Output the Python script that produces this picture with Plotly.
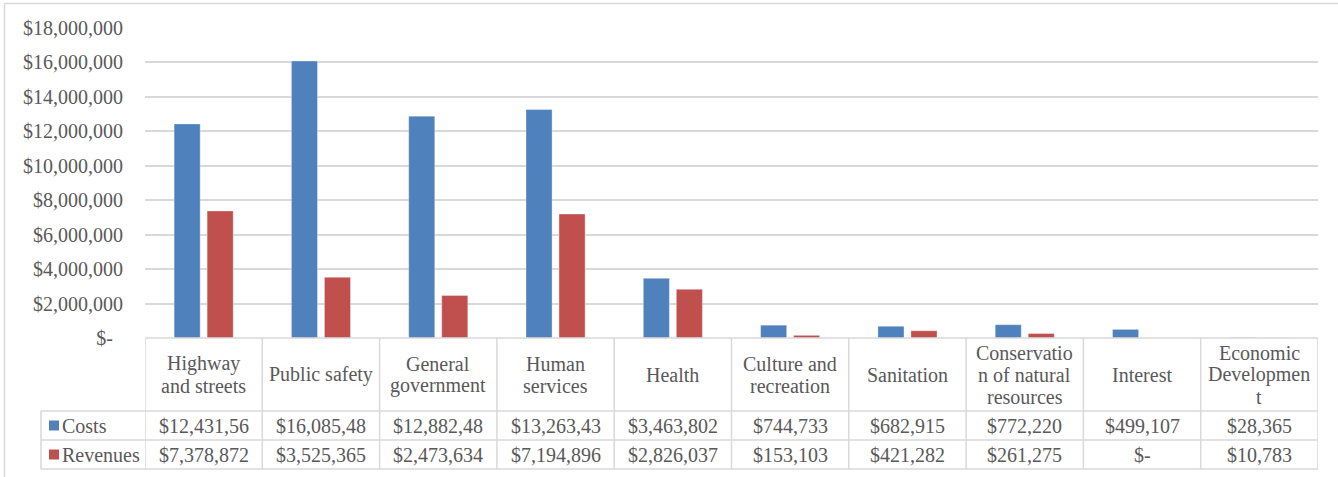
import plotly.graph_objects as go

categories = ["Highway and streets", "Public safety", "General government", "Human services",
              "Health", "Culture and recreation", "Sanitation",
              "Conservation of natural resources", "Interest", "Economic Development"]
header_lines = [["Highway", "and streets"], ["Public safety"], ["General", "government"],
                ["Human", "services"], ["Health"], ["Culture and", "recreation"], ["Sanitation"],
                ["Conservatio", "n of natural", "resources"], ["Interest"],
                ["Economic", "Developmen", "t"]]
costs = [12431560, 16085480, 12882480, 13263430, 3463802, 744733, 682915, 772220, 499107, 28365]
revenues = [7378872, 3525365, 2473634, 7194896, 2826037, 153103, 421282, 261275, 0, 10783]
cost_labels = ["$12,431,56", "$16,085,48", "$12,882,48", "$13,263,43", "$3,463,802",
               "$744,733", "$682,915", "$772,220", "$499,107", "$28,365"]
revenue_labels = ["$7,378,872", "$3,525,365", "$2,473,634", "$7,194,896", "$2,826,037",
                  "$153,103", "$421,282", "$261,275", "$-", "$10,783"]
y_ticks = [0, 2e6, 4e6, 6e6, 8e6, 10e6, 12e6, 14e6, 16e6, 18e6]
y_tick_text = ["$-\u00a0\u00a0", "$2,000,000", "$4,000,000", "$6,000,000", "$8,000,000",
               "$10,000,000", "$12,000,000", "$14,000,000", "$16,000,000", "$18,000,000"]

BLUE = "#4F81BD"
RED = "#C0504D"
GRID = "#D9D9D9"
TXT = "#595959"
FONT = "Liberation Serif"
FS = 20

W, H = 1338, 477
L, R, T, B = 145, 1318, 28, 338  # plot area in pixels

def px_x(p):
    return (p - L) / (R - L)

def px_y(p):
    return (B - p) / (B - T)

idx = list(range(len(categories)))

fig = go.Figure()
fig.add_trace(go.Bar(x=idx, y=costs, name="Costs",
                     marker=dict(color=BLUE, line=dict(color="rgba(255,255,255,0.35)", width=1))))
fig.add_trace(go.Bar(x=idx, y=revenues, name="Revenues",
                     marker=dict(color=RED, line=dict(color="rgba(255,255,255,0.35)", width=1))))

shapes = []
annotations = []

def hline(y, x0p, x1p):
    shapes.append(dict(type="line", xref="paper", yref="paper", x0=px_x(x0p), x1=px_x(x1p),
                       y0=px_y(y), y1=px_y(y), line=dict(color=GRID, width=1.5), layer="above"))

# outer chart border (top / left)
shapes.append(dict(type="line", xref="paper", yref="paper", x0=px_x(4.5), x1=px_x(1345),
                   y0=px_y(3.5), y1=px_y(3.5), line=dict(color=GRID, width=1.5)))
shapes.append(dict(type="line", xref="paper", yref="paper", x0=px_x(4.5), x1=px_x(4.5),
                   y0=px_y(3.5), y1=px_y(480), line=dict(color=GRID, width=1.5)))

# table horizontal lines
ROW1, ROW2, ROW3, ROW4 = 338, 411, 440, 469
hline(ROW1, L, R)
for r in (ROW2, ROW3, ROW4):
    hline(r, 41, R)
# vertical lines
for k in range(len(categories) + 1):
    shapes.append(dict(type="line", xref="x", yref="paper", x0=k - 0.5, x1=k - 0.5,
                       y0=px_y(ROW1), y1=px_y(ROW4), line=dict(color=GRID, width=1.5)))
shapes.append(dict(type="line", xref="paper", yref="paper", x0=px_x(41), x1=px_x(41),
                   y0=px_y(ROW2), y1=px_y(ROW4), line=dict(color=GRID, width=1.5)))

# legend keys
for (yc, col, lab) in (((ROW2 + ROW3) / 2, BLUE, "Costs"), ((ROW3 + ROW4) / 2, RED, "Revenues")):
    shapes.append(dict(type="rect", xref="paper", yref="paper", x0=px_x(49), x1=px_x(59),
                       y0=px_y(yc - 5), y1=px_y(yc + 5), fillcolor=col, line=dict(width=0)))
    annotations.append(dict(xref="paper", yref="paper", x=px_x(60), y=px_y(yc), text=lab,
                            xanchor="left", yanchor="middle", showarrow=False,
                            font=dict(family=FONT, size=FS, color=TXT)))

# header labels
hc = (ROW1 + ROW2) / 2
LS = 22
for i, lines in enumerate(header_lines):
    n = len(lines)
    for j, ln in enumerate(lines):
        yc = hc + (j - (n - 1) / 2) * LS
        annotations.append(dict(xref="x", yref="paper", x=i, y=px_y(yc), text=ln,
                                xanchor="center", yanchor="middle", showarrow=False,
                                font=dict(family=FONT, size=FS, color=TXT)))
# values
for i in idx:
    annotations.append(dict(xref="x", yref="paper", x=i, y=px_y((ROW2 + ROW3) / 2), text=cost_labels[i],
                            xanchor="center", yanchor="middle", showarrow=False,
                            font=dict(family=FONT, size=FS, color=TXT)))
    annotations.append(dict(xref="x", yref="paper", x=i, y=px_y((ROW3 + ROW4) / 2), text=revenue_labels[i],
                            xanchor="center", yanchor="middle", showarrow=False,
                            font=dict(family=FONT, size=FS, color=TXT)))

fig.update_layout(
    width=W, height=H,
    margin=dict(l=L, r=W - R, t=T, b=H - B, pad=0),
    paper_bgcolor="white", plot_bgcolor="white",
    barmode="group", bargap=0.437, bargroupgap=0.21,
    showlegend=False,
    shapes=shapes, annotations=annotations,
    xaxis=dict(range=[-0.5, len(categories) - 0.5], showticklabels=False, showgrid=False,
               zeroline=False, showline=False, ticks=""),
    yaxis=dict(range=[0, 18e6], tickvals=y_ticks, ticktext=y_tick_text, showgrid=True,
               gridcolor=GRID, gridwidth=1.5, zeroline=False, showline=False, ticks="",
               ticklabelstandoff=21,
               tickfont=dict(family=FONT, size=FS, color=TXT)),
)

fig.write_html("out.html")
